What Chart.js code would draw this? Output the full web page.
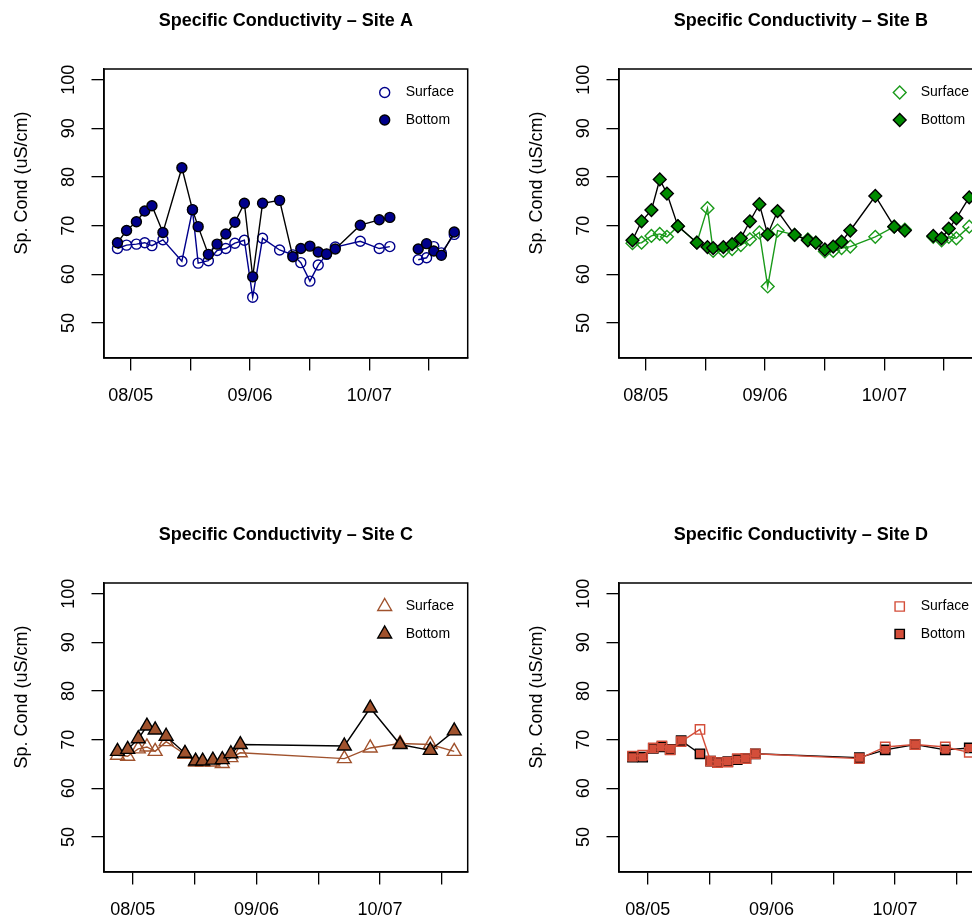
<!DOCTYPE html>
<html>
<head>
<meta charset="utf-8">
<title>Specific Conductivity</title>
<script src="https://cdn.jsdelivr.net/npm/chart.js@4.4.1/dist/chart.umd.min.js"></script>
<style>
  html, body { margin: 0; padding: 0; background: #fff; overflow: hidden; }
  #fig { position: relative; width: 1030px; height: 1028px; }
  #fig canvas { position: absolute; }
</style>
</head>
<body>
<div id="fig">
  <canvas id="siteA" width="515" height="514" style="left:0;top:0"></canvas>
  <canvas id="siteB" width="515" height="514" style="left:515px;top:0"></canvas>
  <canvas id="siteC" width="515" height="514" style="left:0;top:514px"></canvas>
  <canvas id="siteD" width="515" height="514" style="left:515px;top:514px"></canvas>
</div>
<script>
// sampling times, in days after the 08/05 tick (null values = no sample, line breaks)
const daysAB = [-3.5, -1.1, 1.5, 3.7, 5.6, 8.5, 13.5, 16.3, 17.8, 20.5, 22.8, 25.1, 27.5, 30.0, 32.2, 34.8,
  39.3, 42.8, 44.9, 47.3, 49.5, 51.7, 54.0, 60.6, 65.6, 68.4, 72.0, 75.9, 78.1, 80.0, 82.0, 85.4];
const daysCD = [-3.9, -1.3, 1.4, 3.6, 5.7, 8.5, 13.3, 16.0, 17.8, 20.4, 22.8, 25.0, 27.4, 53.9, 60.5, 68.1, 75.8, 81.9];

// Sp. Cond (uS/cm)
const surfaceA = [65.3, 66.0, 66.2, 66.5, 65.9, 67.1, 62.7, 73.2, 62.3, 62.8, 64.9, 65.3, 66.4, 67.0, 55.3, 67.4,
  65.0, 64.0, 62.4, 58.6, 61.9, 64.1, 65.6, 66.8, 65.3, 65.7, null, 63.0, 63.4, 65.7, 64.4, 68.2];
const bottomA = [66.5, 69.0, 70.8, 73.0, 74.1, 68.6, 81.9, 73.3, 69.8, 64.1, 66.2, 68.3, 70.7, 74.6, 59.5, 74.6,
  75.2, 63.6, 65.3, 65.8, 64.6, 64.2, 65.2, 70.1, 71.2, 71.7, null, 65.2, 66.3, 64.8, 63.9, 68.7];
const surfaceB = [66.4, 66.5, 67.9, 68.3, 67.7, 69.9, 66.5, 73.6, 64.8, 64.8, 65.2, 66.0, 67.2, 68.6, 57.5, 69.0,
  68.1, 67.2, 66.5, 64.7, 64.8, 65.4, 65.7, 67.7, 69.8, 69.2, null, 67.7, 67.0, 67.7, 67.4, 69.8];
const bottomB = [67.0, 70.9, 73.2, 79.5, 76.6, 69.9, 66.5, 65.6, 65.4, 65.6, 66.2, 67.4, 70.9, 74.4, 68.2, 73.0,
  68.1, 67.0, 66.5, 65.1, 65.7, 66.7, 69.0, 76.1, 69.8, 69.0, null, 67.9, 67.4, 69.4, 71.5, 75.8];
const surfaceC = [66.8, 66.6, 68.1, 68.5, 67.6, 69.6, 67.0, 65.4, 65.4, 65.4, 65.1, 66.3, 67.3, 66.1, 68.3, 69.2, 69.0, 67.6];
const bottomC = [67.6, 68.0, 70.2, 72.8, 72.0, 70.7, 67.2, 65.6, 65.6, 65.8, 65.9, 67.1, 69.0, 68.7, 76.5, 69.0, 67.8, 71.8];
const surfaceD = [66.6, 66.8, 68.3, 68.7, 67.9, 69.6, 72.1, 65.6, 65.3, 65.4, 66.1, 66.1, 67.1, 66.1, 68.5, 69.0, 68.5, 67.4];
const bottomD = [66.4, 66.4, 68.2, 68.5, 68.0, 69.8, 67.1, 65.6, 65.3, 65.5, 65.9, 66.1, 67.1, 66.3, 67.9, 69.0, 67.9, 68.3];

// axes
const xTickDays = [0, 15.75, 31.5, 47.25, 63, 78.75];
const xTickLabels = ['08/05', '', '09/06', '', '10/07', ''];
const yTicks = [50, 60, 70, 80, 90, 100];
const yLimits = [45, 100];
const seriesNames = ['Surface', 'Bottom'];

const FONT = '"Liberation Sans", Arial, Helvetica, sans-serif';
Chart.defaults.font.family = FONT;
Chart.defaults.color = '#000';

// R style 4% axis extension
function extend(lo, hi) {
  const pad = 0.04 * (hi - lo);
  return [lo - pad, hi + pad];
}

function drawSymbol(ctx, style, x, y) {
  ctx.fillStyle = style.fill;
  ctx.strokeStyle = style.stroke;
  ctx.lineWidth = 1.4;
  if (Chart.helpers && Chart.helpers.drawPoint) {
    Chart.helpers.drawPoint(ctx, { pointStyle: style.shape, radius: style.radius, rotation: 0, borderWidth: 1.4 }, x, y);
  } else {
    ctx.beginPath(); ctx.arc(x, y, style.radius, 0, Math.PI * 2); ctx.fill(); ctx.stroke();
  }
}

// box, title, y label and legend drawn on top of the library's axes
const framePlugin = {
  id: 'frame',
  afterDraw(chart, args, opts) {
    const { ctx, chartArea: a } = chart;
    ctx.save();
    ctx.strokeStyle = '#000';
    ctx.lineWidth = 1.5;
    ctx.strokeRect(a.left, a.top, a.right - a.left, a.bottom - a.top);

    ctx.fillStyle = '#000';
    ctx.textAlign = 'center';
    ctx.textBaseline = 'middle';
    ctx.font = 'bold 18px ' + FONT;
    ctx.fillText(opts.title, (a.left + a.right) / 2, 21);

    ctx.save();
    ctx.translate(22, 183);
    ctx.rotate(-Math.PI / 2);
    ctx.font = '18px ' + FONT;
    ctx.fillText('Sp. Cond (uS/cm)', 0, 0);
    ctx.restore();

    // legend, top right inside the box
    ctx.font = '14px ' + FONT;
    ctx.textAlign = 'left';
    opts.legend.forEach((item, i) => {
      const y = 92.5 + i * 27.5;
      drawSymbol(ctx, item, a.right - 83, y);
      ctx.fillStyle = '#000';
      ctx.fillText(item.label, a.right - 62, y);
    });
    ctx.restore();
  }
};

function makePanel(id, site, days, surface, bottom, look) {
  const xLim = extend(Math.min(...days), Math.max(...days));
  const yLim = extend(yLimits[0], yLimits[1]);
  const pts = vals => days.map((d, i) => ({ x: d, y: vals[i] }));

  const surfStyle = { label: seriesNames[0], shape: look.shape, radius: look.radius, fill: 'rgba(0,0,0,0)', stroke: look.color };
  const botStyle = { label: seriesNames[1], shape: look.shape, radius: look.radius, fill: look.fill, stroke: '#000' };

  new Chart(document.getElementById(id), {
    type: 'line',
    data: {
      datasets: [
        {
          label: seriesNames[0], data: pts(surface), order: look.surfaceOnTop ? 1 : 2,
          borderColor: look.color, borderWidth: 1.4, tension: 0, spanGaps: false,
          pointStyle: look.shape, pointRadius: look.radius, pointHoverRadius: look.radius,
          pointBackgroundColor: 'rgba(0,0,0,0)', pointBorderColor: look.color, pointBorderWidth: 1.4
        },
        {
          label: seriesNames[1], data: pts(bottom), order: look.surfaceOnTop ? 2 : 1,
          borderColor: '#000', borderWidth: 1.4, tension: 0, spanGaps: false,
          pointStyle: look.shape, pointRadius: look.radius, pointHoverRadius: look.radius,
          pointBackgroundColor: look.fill, pointBorderColor: '#000', pointBorderWidth: 1.4
        }
      ]
    },
    options: {
      responsive: false,
      animation: false,
      events: [],
      devicePixelRatio: 1,
      layout: { padding: { top: 69, right: 47.3, bottom: 0, left: 0 } },
      scales: {
        x: {
          type: 'linear', min: xLim[0], max: xLim[1], bounds: 'data',
          afterBuildTicks: s => { s.ticks = xTickDays.map(v => ({ value: v })); },
          afterFit: s => { s.height = 156; },
          ticks: {
            autoSkip: false, maxRotation: 0, padding: 14.5,
            font: { size: 18 }, color: '#000',
            callback: (v, i) => xTickLabels[i]
          },
          grid: { display: true, drawOnChartArea: false, drawTicks: true, tickLength: 12.5, tickColor: '#000', lineWidth: 1.3 },
          border: { display: true, color: '#000', width: 1.5 }
        },
        y: {
          type: 'linear', min: yLim[0], max: yLim[1], bounds: 'data',
          afterBuildTicks: s => { s.ticks = yTicks.map(v => ({ value: v })); },
          afterFit: s => { s.width = 104; },
          ticks: {
            autoSkip: false, minRotation: 90, maxRotation: 90, crossAlign: 'center', padding: 7,
            font: { size: 18 }, color: '#000'
          },
          grid: { display: true, drawOnChartArea: false, drawTicks: true, tickLength: 12.5, tickColor: '#000', lineWidth: 1.3 },
          border: { display: true, color: '#000', width: 1.5 }
        }
      },
      plugins: {
        legend: { display: false },
        tooltip: { enabled: false },
        frame: { title: 'Specific Conductivity \u2013 Site ' + site, legend: [surfStyle, botStyle] }
      }
    },
    plugins: [framePlugin]
  });
}

makePanel('siteA', 'A', daysAB, surfaceA, bottomA, { shape: 'circle', radius: 5, color: '#00008B', fill: '#00008B' });
makePanel('siteB', 'B', daysAB, surfaceB, bottomB, { shape: 'rectRot', radius: 6.4, color: '#1A9A1A', fill: '#008B00' });
makePanel('siteC', 'C', daysCD, surfaceC, bottomC, { shape: 'triangle', radius: 8, color: '#A0522D', fill: '#A0522D' });
makePanel('siteD', 'D', daysCD, surfaceD, bottomD, { shape: 'rect', radius: 6.6, color: '#D44E3A', fill: '#D44E3A', surfaceOnTop: true });
</script>
</body>
</html>
